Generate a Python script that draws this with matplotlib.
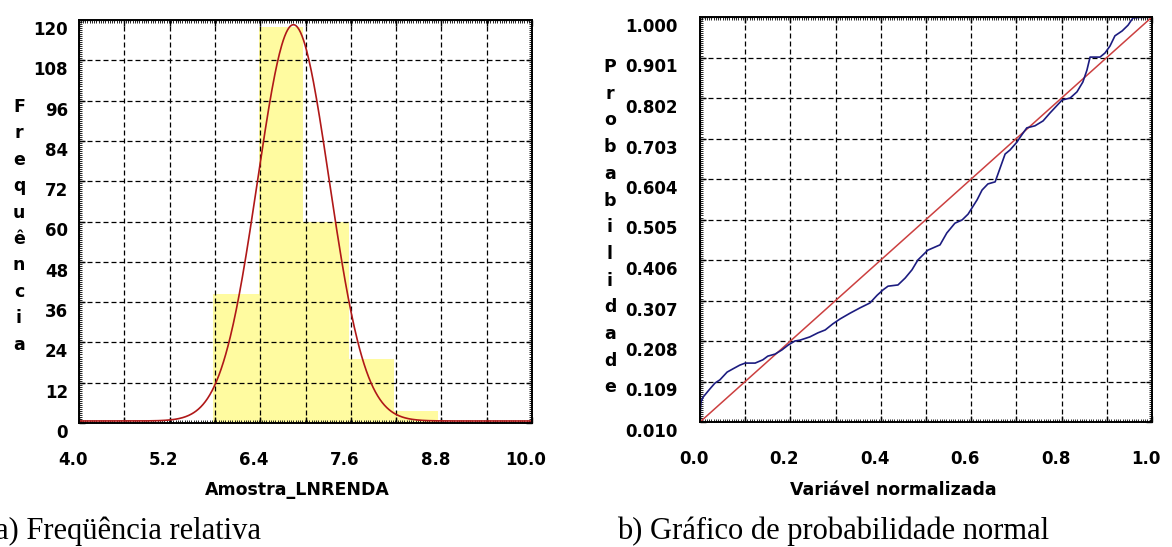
import numpy as np
import matplotlib
matplotlib.use('Agg')
import matplotlib.pyplot as plt
from matplotlib.ticker import MultipleLocator, FixedLocator
from matplotlib.transforms import ScaledTranslation

# ---------------- data: (a) histogram ----------------
bin_edges = [5.78, 6.38, 6.97, 7.57, 8.17, 8.76]
bin_counts = [38.5, 118, 60, 19, 3.5]
curve_mean = 6.84
curve_sd = 0.475
curve_peak = 118.0
hist_xticks = [4.0, 4.6, 5.2, 5.8, 6.4, 7.0, 7.6, 8.2, 8.8, 9.4, 10.0]
hist_xticklabels = ['4.0', '', '5.2', '', '6.4', '', '7.6', '', '8.8', '', '10.0']
hist_yticks = [0, 12, 24, 36, 48, 60, 72, 84, 96, 108, 120]
hist_yticklabels = ['0', '12', '24', '36', '48', '60', '72', '84', '96', '108', '120']

# ---------------- data: (b) normal probability plot ----------------
prob_x = [0.000, 0.002, 0.007, 0.022, 0.033, 0.044, 0.060, 0.073, 0.088, 0.100,
          0.122, 0.139, 0.150, 0.166, 0.181, 0.195, 0.210, 0.221, 0.243, 0.261,
          0.277, 0.294, 0.310, 0.332, 0.354, 0.376, 0.392, 0.405, 0.416, 0.438,
          0.454, 0.469, 0.482, 0.504, 0.531, 0.546, 0.564, 0.580, 0.593, 0.613,
          0.624, 0.637, 0.653, 0.664, 0.675, 0.686, 0.701, 0.712, 0.723, 0.741,
          0.759, 0.774, 0.785, 0.801, 0.819, 0.834, 0.847, 0.856, 0.863, 0.885,
          0.896, 0.907, 0.918, 0.934, 0.947, 0.958, 0.991, 1.000]
prob_y = [0.025, 0.059, 0.071, 0.091, 0.105, 0.113, 0.132, 0.140, 0.149, 0.154,
          0.154, 0.162, 0.171, 0.176, 0.186, 0.198, 0.208, 0.210, 0.218, 0.228,
          0.235, 0.250, 0.262, 0.276, 0.289, 0.301, 0.320, 0.333, 0.342, 0.345,
          0.362, 0.382, 0.406, 0.430, 0.443, 0.472, 0.496, 0.504, 0.518, 0.553,
          0.577, 0.592, 0.597, 0.631, 0.665, 0.675, 0.694, 0.712, 0.729, 0.734,
          0.746, 0.765, 0.778, 0.797, 0.802, 0.817, 0.841, 0.870, 0.902, 0.902,
          0.912, 0.929, 0.954, 0.966, 0.980, 0.998, 1.000, 1.000]
ref_x = [0.0, 1.0]
ref_y = [0.010, 1.000]
prob_xticks = [0.0, 0.1, 0.2, 0.3, 0.4, 0.5, 0.6, 0.7, 0.8, 0.9, 1.0]
prob_xticklabels = ['0.0', '', '0.2', '', '0.4', '', '0.6', '', '0.8', '', '1.0']
prob_yticks = [0.010, 0.109, 0.208, 0.307, 0.406, 0.505, 0.604, 0.703, 0.802, 0.901, 1.000]
prob_yticklabels = ['0.010', '0.109', '0.208', '0.307', '0.406', '0.505',
                    '0.604', '0.703', '0.802', '0.901', '1.000']

W, H = 1172, 547
fig = plt.figure(figsize=(W / 100, H / 100), dpi=100)
fig.patch.set_facecolor('white')

TICKFONT = dict(family='DejaVu Sans', weight='bold', size=12)


def style_axes(ax, xminor, yminor, ypad):
    for s in ax.spines.values():
        s.set_linewidth(1.4)
        s.set_color('black')
        s.set_zorder(5)
    ax.xaxis.set_minor_locator(MultipleLocator(xminor))
    ax.yaxis.set_minor_locator(MultipleLocator(yminor))
    ax.tick_params(which='both', direction='in', top=True, right=True,
                   bottom=True, left=True, colors='black')
    ax.tick_params(which='major', length=4, width=1.0)
    ax.tick_params(which='minor', length=2.3, width=0.6)
    ax.tick_params(axis='x', which='major', pad=20)
    ax.tick_params(axis='y', which='major', pad=ypad)
    ax.grid(True, which='major', color='black', linestyle=(0, (4, 2.4)),
            linewidth=0.9, zorder=3)
    ax.set_axisbelow(False)
    for lab in ax.get_xticklabels() + ax.get_yticklabels():
        lab.set_fontfamily(TICKFONT['family'])
        lab.set_fontweight(TICKFONT['weight'])
        lab.set_fontsize(TICKFONT['size'])
    dx = ScaledTranslation(-6 / 100, 0, fig.dpi_scale_trans)
    dy = ScaledTranslation(0, -8 / 100, fig.dpi_scale_trans)
    for lab in ax.get_xticklabels():
        lab.set_transform(lab.get_transform() + dx)
    for lab in ax.get_yticklabels():
        lab.set_transform(lab.get_transform() + dy)


# ---------------- (a) ----------------
ax1 = fig.add_axes([79 / W, 1 - 423 / H, 453 / W, 403 / H])
widths = np.diff(bin_edges)
ax1.bar(bin_edges[:-1], bin_counts, width=widths, align='edge',
        color='#FFFBA0', edgecolor='none', zorder=1)
xc = np.linspace(4.0, 10.0, 600)
yc = curve_peak * np.exp(-0.5 * ((xc - curve_mean) / curve_sd) ** 2)
ax1.plot(xc, yc + 0.6, color='#B01818', linewidth=1.2, zorder=4, clip_on=False)
ax1.set_xlim(4.0, 10.0)
ax1.set_ylim(0, 120)
ax1.xaxis.set_major_locator(FixedLocator(hist_xticks))
ax1.yaxis.set_major_locator(FixedLocator(hist_yticks))
ax1.set_xticklabels(hist_xticklabels)
ax1.set_yticklabels(hist_yticklabels)
style_axes(ax1, 0.03, 0.6, 8)

# ---------------- (b) ----------------
ax2 = fig.add_axes([700 / W, 1 - 422 / H, 452 / W, 405 / H])
ax2.plot(ref_x, ref_y, color='#CC4040', linewidth=1.1, zorder=4)
ax2.plot(prob_x, prob_y, color='#1C1C80', linewidth=1.2, zorder=4)
ax2.set_xlim(0.0, 1.0)
ax2.set_ylim(0.010, 1.000)
ax2.xaxis.set_major_locator(FixedLocator(prob_xticks))
ax2.yaxis.set_major_locator(FixedLocator(prob_yticks))
ax2.set_xticklabels(prob_xticklabels)
ax2.set_yticklabels(prob_yticklabels)
style_axes(ax2, 0.005, 0.00495, 16)

# ---------------- axis labels ----------------
lab_font = dict(family='DejaVu Sans', weight='bold', size=12.5)
fig.text(297 / W, 1 - 495 / H, 'Amostra_LNRENDA', ha='center', va='baseline', **lab_font)
fig.text(893 / W, 1 - 495 / H, 'Variável normalizada', ha='center', va='baseline', **lab_font)

for i, ch in enumerate('Frequência'):
    fig.text(19 / W, 1 - (112 + 26.4 * i) / H, ch, ha='center', va='baseline', **lab_font)
for i, ch in enumerate('Probabilidade'):
    fig.text(610 / W, 1 - (72 + 26.7 * i) / H, ch, ha='center', va='baseline', **lab_font)

# ---------------- captions ----------------
cap_font = dict(family='Liberation Serif', size=22)
fig.text(-5 / W, 1 - 539 / H, 'a) Freqüência relativa', ha='left', va='baseline', **cap_font)
fig.text(617 / W, 1 - 539 / H, 'b) Gráfico de probabilidade normal', ha='left', va='baseline', **cap_font)

fig.savefig('out.png', dpi=100, facecolor='white')
